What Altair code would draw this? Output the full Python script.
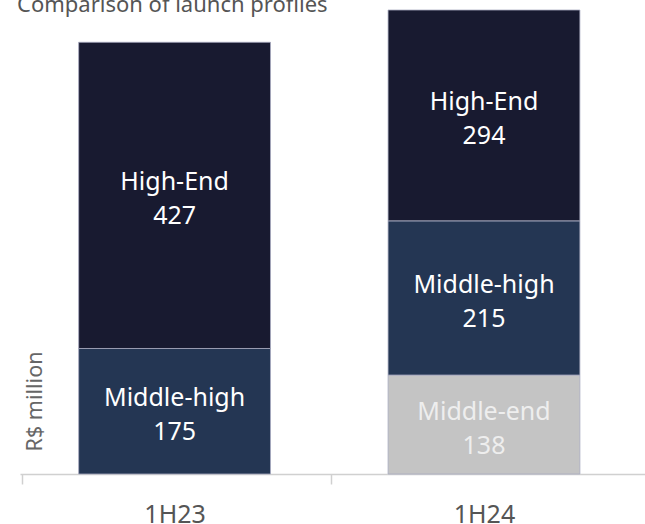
import altair as alt
import pandas as pd

periods = ["1H23", "1H23", "1H24", "1H24", "1H24"]
segments = ["Middle-high", "High-End", "Middle-end", "Middle-high", "High-End"]
values = [175, 427, 138, 215, 294]
stack_order = {"Middle-end": 0, "Middle-high": 1, "High-End": 2}

seg_domain = ["Middle-end", "Middle-high", "High-End"]
seg_colors = ["#c4c4c4", "#243653", "#181a30"]
txt_colors = ["#eeeeee", "#ffffff", "#ffffff"]

df = pd.DataFrame({
    "period": periods,
    "segment": segments,
    "value": values,
    "ord": [stack_order[s] for s in segments],
})

FONT = "Noto Sans"

base = alt.Chart(df).transform_stack(
    stack="value", groupby=["period"], as_=["y0", "y1"],
    sort=[alt.SortField("ord", order="ascending")]
).transform_calculate(
    mid="(datum.y0 + datum.y1) / 2",
    label="[datum.segment, '' + datum.value]",
)

xenc = alt.X(
    "period:N",
    title=None,
    scale=alt.Scale(paddingInner=0.38, paddingOuter=0.2, align=0.474),
    axis=alt.Axis(
        labelAngle=0, labelFont=FONT, labelFontSize=25, labelColor="#555555",
        labelPadding=18, domainColor="#d0d0d0", domainWidth=1.5,
        tickColor="#d0d0d0", tickWidth=1.5, tickSize=10,
        tickOffset=-153, labelOffset=153, grid=False,
    ),
)

yscale = alt.Scale(domain=[0, 647], nice=False, zero=True)

bars = base.mark_bar(stroke="#a8abc0", strokeWidth=0.8).encode(
    x=xenc,
    y=alt.Y(
        "y0:Q", scale=yscale, title="R$ million",
        axis=alt.Axis(
            domain=False, ticks=False, labels=False, grid=False,
            titleFont=FONT, titleFontSize=21.5, titleFontWeight="normal",
            titleColor="#666666", titleAngle=-90, titleAlign="center",
            titleBaseline="middle", titleX=15, titleY=391,
        ),
    ),
    y2="y1:Q",
    color=alt.Color("segment:N", scale=alt.Scale(domain=seg_domain, range=seg_colors), legend=None),
)

texts = base.mark_text(
    font=FONT, fontSize=25, baseline="middle", align="center", lineHeight=34, dy=-13
).encode(
    x=alt.X("period:N"),
    y=alt.Y("mid:Q", scale=yscale),
    text="label:N",
    color=alt.Color("segment:N", scale=alt.Scale(domain=seg_domain, range=txt_colors), legend=None),
)

chart = alt.layer(bars, texts).resolve_scale(color="independent").properties(
    width=625, height=464,
    title=alt.TitleParams(
        "Comparison of launch profiles", anchor="start", frame="group",
        font=FONT, fontSize=22, fontWeight="normal", color="#555555",
        baseline="alphabetic", offset=0, dx=-3, dy=24,
    ),
    autosize=alt.AutoSizeParams(type="none"),
    padding={"left": 20, "top": 10, "right": 0, "bottom": 50},
).configure_view(stroke=None)

chart.save("out.html", embed_options={"renderer": "svg", "actions": False})
